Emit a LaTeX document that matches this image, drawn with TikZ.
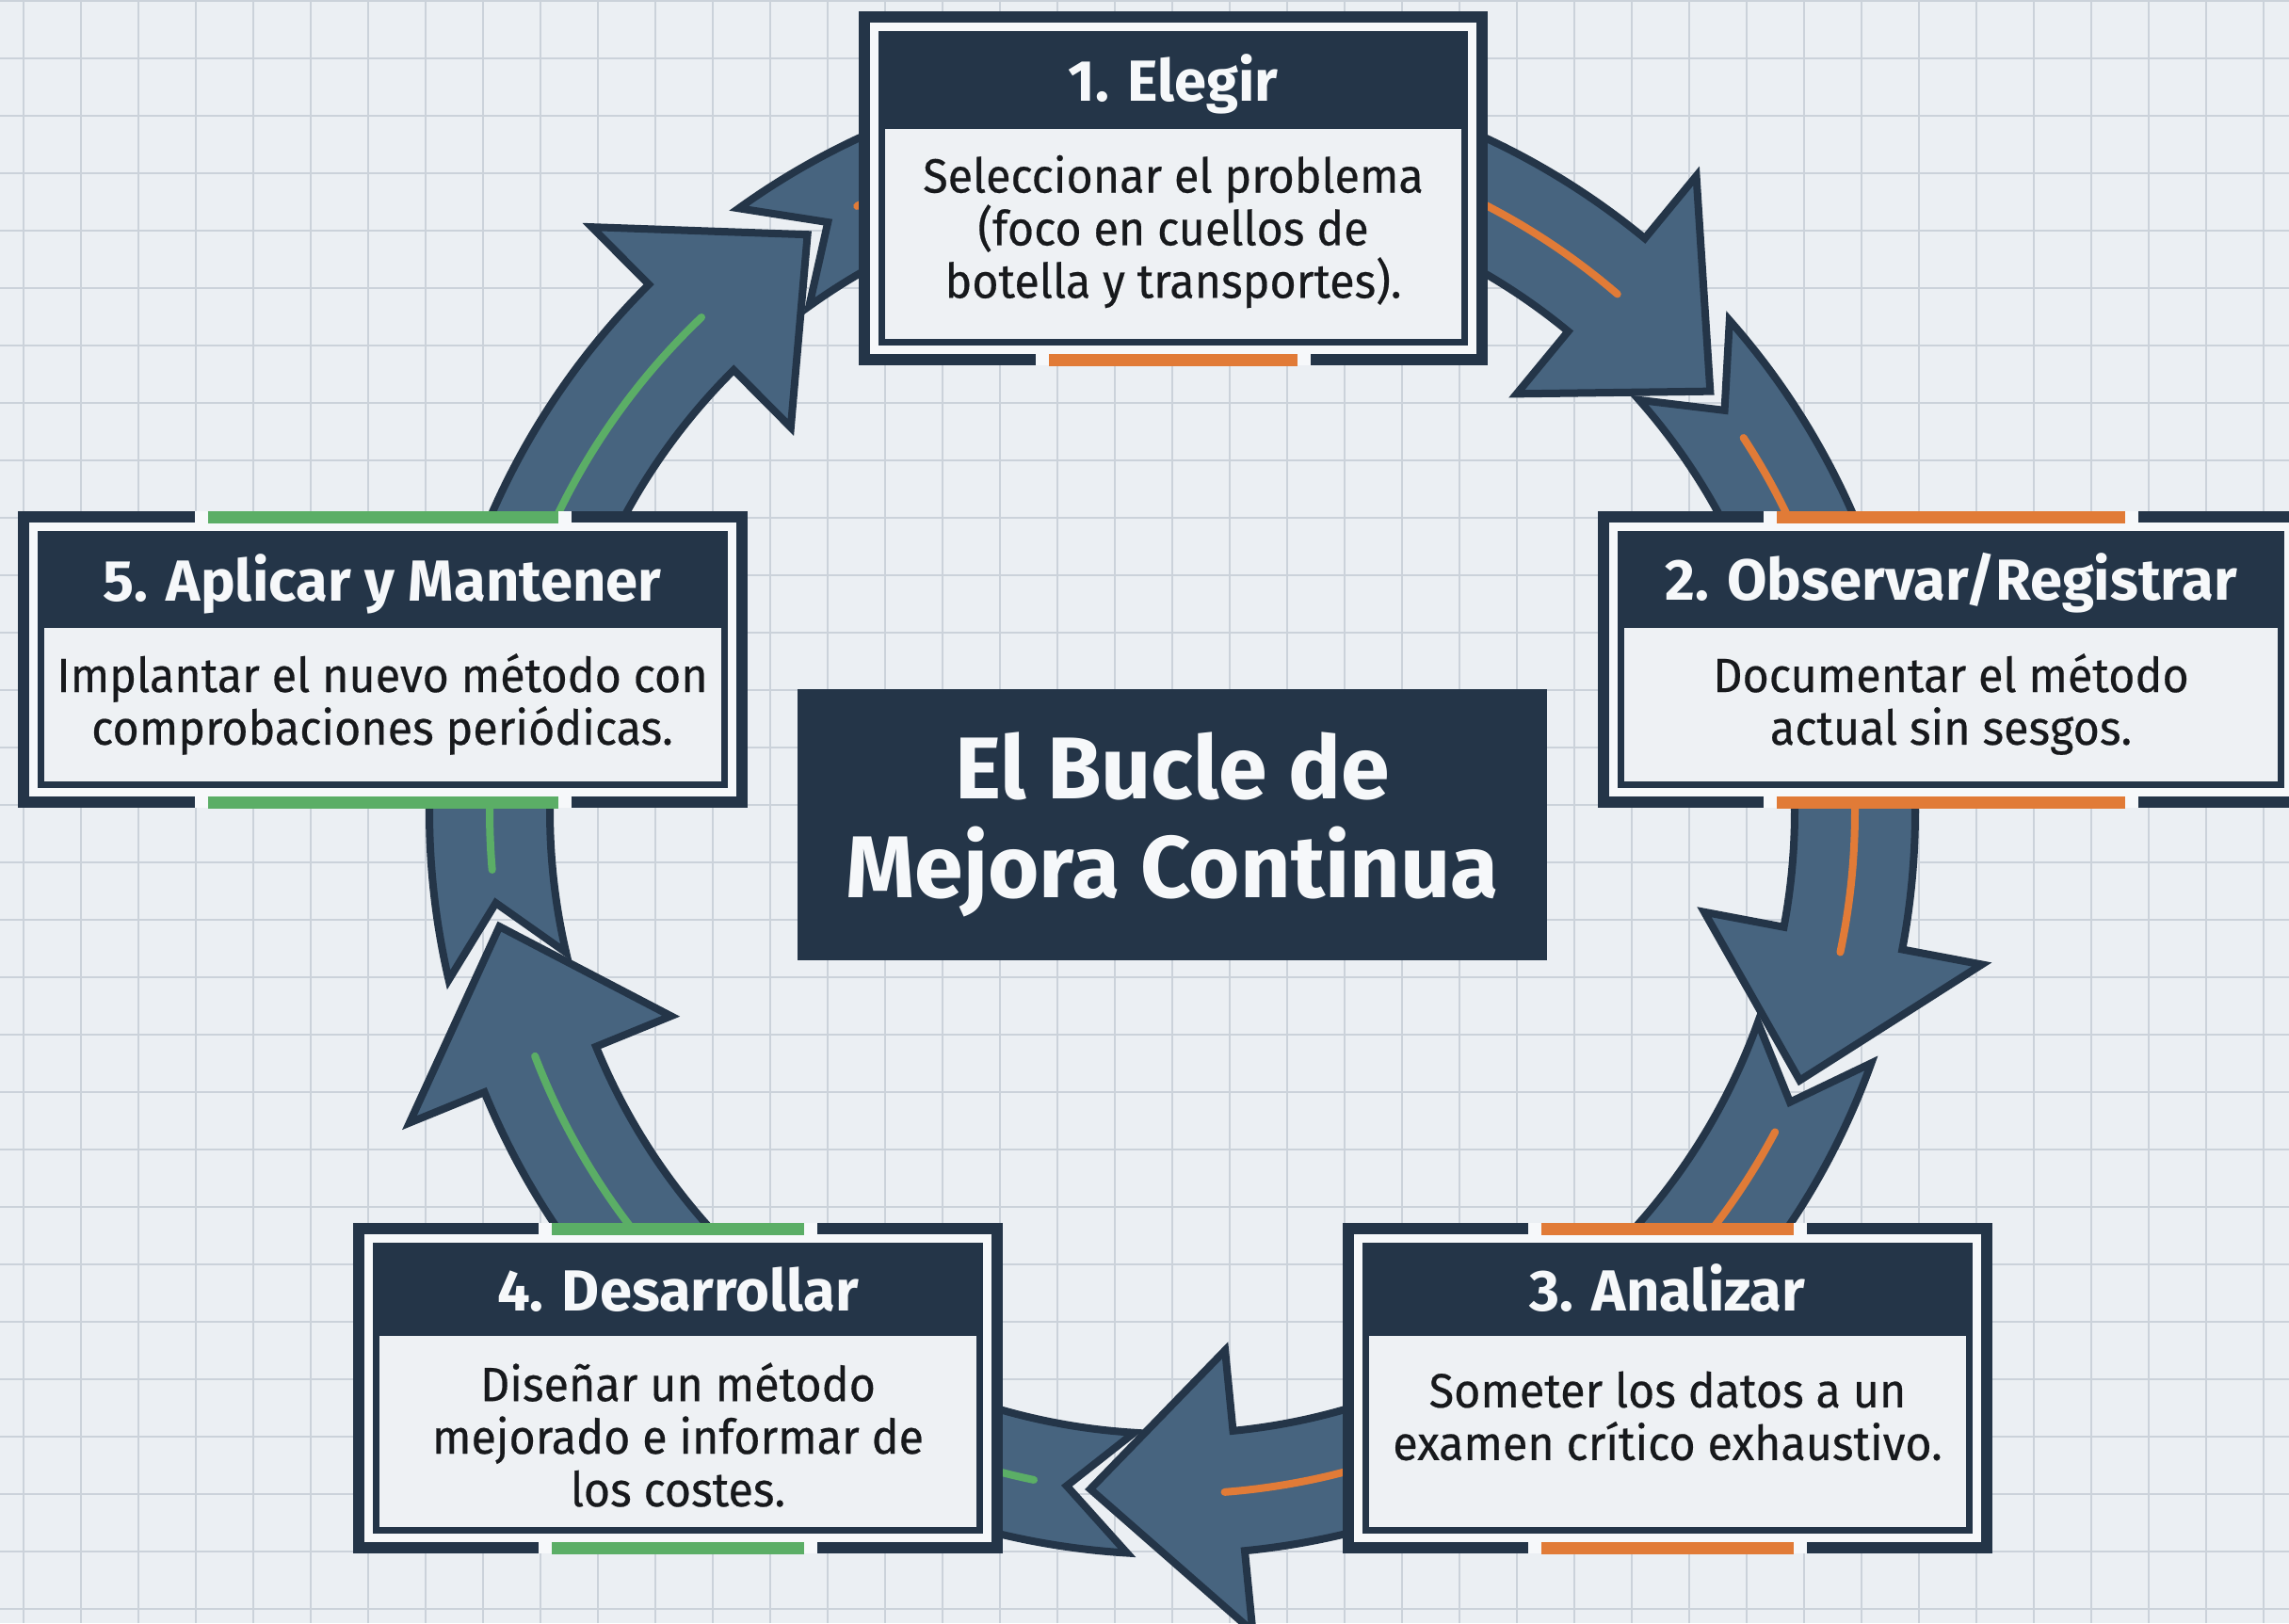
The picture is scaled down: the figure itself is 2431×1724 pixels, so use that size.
\documentclass[tikz,border=0pt]{standalone}
\usepackage{fontspec}
\setmainfont{Fira Sans}
\newfontfamily\cardfont{Fira Sans}[FakeStretch=0.95, FakeBold=0.4]
\usetikzlibrary{calc}

\definecolor{paper}{HTML}{EBEFF3}
\definecolor{gridgray}{HTML}{CBD2DA}
\definecolor{navy}{HTML}{243548}
\definecolor{steel}{HTML}{47647F}
\definecolor{panel}{HTML}{EEF1F4}
\definecolor{rim}{HTML}{F6F8FA}
\definecolor{accorange}{HTML}{E17B37}
\definecolor{accgreen}{HTML}{5BAE66}
\definecolor{ink}{HTML}{17191C}

\tikzset{
  gridline/.style={gridgray, line width=0.02cm},
  ringband/.style={fill=steel, draw=navy, line width=0.08cm, line join=miter},
  ringstripe/.style={line width=0.08cm, line cap=round},
  rimline/.style={navy, line width=0.12cm},
  rimbar/.style={line width=0.13cm},
  stagetitle/.style={anchor=base, text=rim, inner sep=0pt,
    font=\bfseries\fontsize{17.5}{19}\selectfont},
  stagebody/.style={text=ink, inner sep=0pt, align=center,
    font=\cardfont\fontsize{14.5}{15.9}\selectfont},
  looptitle/.style={fill=navy, text=rim, align=center, inner sep=0pt,
    minimum width=7.95cm, minimum height=2.88cm,
    font=\bfseries\fontsize{26.5}{30}\selectfont}
}

% one piece of the loop: tail notch at the previous tip, head at this tip
% #1 previous tip angle, #2 tip angle, #3 stripe colour
\newcommand{\loopseg}[3]{%
  \pgfmathsetmacro{\tailA}{#1+3.4}%
  \pgfmathsetmacro{\tailN}{#1-2}%
  \pgfmathsetmacro{\barbA}{#2+12.5}%
  \pgfmathsetmacro{\stripeA}{#1-4.8}%
  \pgfmathsetmacro{\stripeB}{#2+11.3}%
  \draw[ringband] (\tailA:661) -- (\tailN:725) -- (\tailA:789)
    arc[start angle=\tailA, end angle=\barbA, radius=789]
    -- (\barbA:875) -- (#2:725) -- (\barbA:575) -- (\barbA:661)
    arc[start angle=\barbA, end angle=\tailA, radius=661] -- cycle;
  \draw[ringstripe, #3] (\stripeA:725)
    arc[start angle=\stripeA, end angle=\stripeB, radius=725];
}

% framed stage card
% #1 left, #2 right, #3 top, #4 bottom, #5 header bottom,
% #6 bar length, #7 bar colour, #8 bar on top edge (1/0)
\newcommand{\stageframe}[8]{%
  \pgfmathsetmacro{\frameC}{(#1+#2)/2}%
  \pgfmathsetmacro{\barL}{\frameC-#6/2}%
  \pgfmathsetmacro{\barR}{\frameC+#6/2}%
  \fill[rim] (#1,-#3) rectangle (#2,-#4);
  \draw[rimline] (#1+6,-#3) -- (#1+6,-#4) (#2-6,-#3) -- (#2-6,-#4);
  \ifnum#8=1
    \draw[rimline] (#1,-#3-6) -- (\barL-14,-#3-6) (\barR+14,-#3-6) -- (#2,-#3-6);
    \draw[rimbar, #7] (\barL,-#3-6) -- (\barR,-#3-6);
  \else
    \draw[rimline] (#1,-#3-6) -- (#2,-#3-6);
  \fi
  \draw[rimline] (#1,-#4+6) -- (\barL-14,-#4+6) (\barR+14,-#4+6) -- (#2,-#4+6);
  \draw[rimbar, #7] (\barL,-#4+6) -- (\barR,-#4+6);
  \fill[panel] (#1+21,-#3-21) rectangle (#2-21,-#4+21);
  \fill[navy] (#1+21,-#3-21) rectangle (#2-21,-#5);
  \draw[navy, line width=0.07cm] (#1+24.5,-#3-24.5) rectangle (#2-24.5,-#4+24.5);
}

\begin{document}
\begin{tikzpicture}[x=0.01cm, y=0.01cm]
  \useasboundingbox (0,0) rectangle (2431,-1724);
  \clip (0,0) rectangle (2431,-1724);
  \fill[paper] (0,0) rectangle (2431,-1724);
  % grid paper
  \foreach \i in {-21,...,20}
    \draw[gridline] ({1245+61*\i},0) -- ({1245+61*\i},-1724);
  \foreach \j in {-9,...,19}
    \draw[gridline] (0,{-1160+61*\j}) -- (2431,{-1160+61*\j});

  % the loop
  \begin{scope}[shift={(1245,-862)}]
    \loopseg{122.3}{38}{accorange}
    \loopseg{38}{-23.2}{accorange}
    \loopseg{-23.2}{-96.9}{accorange}
    \loopseg{-96.9}{-170.3}{accgreen}
    \loopseg{-170.3}{-237.7}{accgreen}
  \end{scope}

  % stage cards
  \stageframe{912}{1580}{12}{388}{137}{264}{accorange}{0}
  \stageframe{1697}{2447}{543}{858}{667}{370}{accorange}{1}
  \stageframe{1426}{2116}{1299}{1650}{1419}{268}{accorange}{1}
  \stageframe{375}{1065}{1299}{1650}{1419}{268}{accgreen}{1}
  \stageframe{19}{794}{543}{858}{667}{372}{accgreen}{1}

  \node[stagetitle] (elegir) at (1246,-107) {1. Elegir};
  \node[stagebody] (elegirtxt) at (1246,-246)
    {Seleccionar el problema\\(foco en cuellos de\\botella y transportes).};

  \node[stagetitle] (observar) at (2072,-637) {2. Observar/Registrar};
  \node[stagebody] (observartxt) at (2072,-748)
    {Documentar el método\\actual sin sesgos.};

  \node[stagetitle] (analizar) at (1771,-1392) {3. Analizar};
  \node[stagebody] (analizartxt) at (1771,-1504)
    {Someter los datos a un\\examen crítico exhaustivo.};

  \node[stagetitle] (desarrollar) at (720,-1392) {4. Desarrollar};
  \node[stagebody] (desarrollartxt) at (720,-1524)
    {Diseñar un método\\mejorado e informar de\\los costes.};

  \node[stagetitle] (aplicar) at (406,-638) {5. Aplicar y Mantener};
  \node[stagebody] (aplicartxt) at (406,-748)
    {Implantar el nuevo método con\\comprobaciones periódicas.};

  % centre title
  \node[looptitle] (bucle) at (1245,-876) {El Bucle de\\Mejora Continua};
\end{tikzpicture}
\end{document}
